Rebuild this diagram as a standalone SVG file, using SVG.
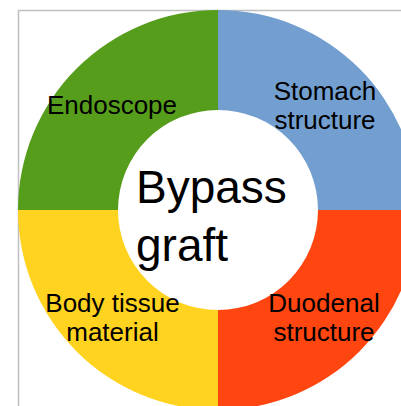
<svg xmlns="http://www.w3.org/2000/svg" width="401" height="406" viewBox="0 0 401 406">
<style>
.lbl{font-family:"Liberation Sans",Arial,sans-serif;font-size:26px;fill:#000;text-anchor:middle}
.big{font-family:"Liberation Sans",Arial,sans-serif;font-size:46px;fill:#000}
</style>
<rect x="0" y="0" width="401" height="406" fill="#fff"/>
<path d="M18.5 406 V10.5 H401" fill="none" stroke="#c0c0c0" stroke-width="1.5"/>
<g id="stomach">
<path d="M218 10 A200 200 0 0 1 418 210 H318 A100 100 0 0 0 218 110 Z" fill="#729fcf"/>
<text class="lbl" x="325" y="100">Stomach</text>
<text class="lbl" x="325" y="129">structure</text>
</g>
<g id="duodenal">
<path d="M418 210 A200 200 0 0 1 218 410 V310 A100 100 0 0 0 318 210 Z" fill="#ff4510"/>
<text class="lbl" x="324" y="311.5">Duodenal</text>
<text class="lbl" x="324" y="340.5">structure</text>
</g>
<g id="body">
<path d="M218 410 A200 200 0 0 1 18 210 H118 A100 100 0 0 0 218 310 Z" fill="#ffd320"/>
<text class="lbl" x="112.5" y="311.5">Body tissue</text>
<text class="lbl" x="112.5" y="340.5">material</text>
</g>
<g id="endoscope">
<path d="M18 210 A200 200 0 0 1 218 10 V110 A100 100 0 0 0 118 210 Z" fill="#579d1c"/>
<text class="lbl" x="112" y="113.5">Endoscope</text>
</g>
<g id="center">
<text class="big" x="136" y="203">Bypass</text>
<text class="big" x="136" y="261">graft</text>
</g>
<g id="connectors"/>
</svg>
